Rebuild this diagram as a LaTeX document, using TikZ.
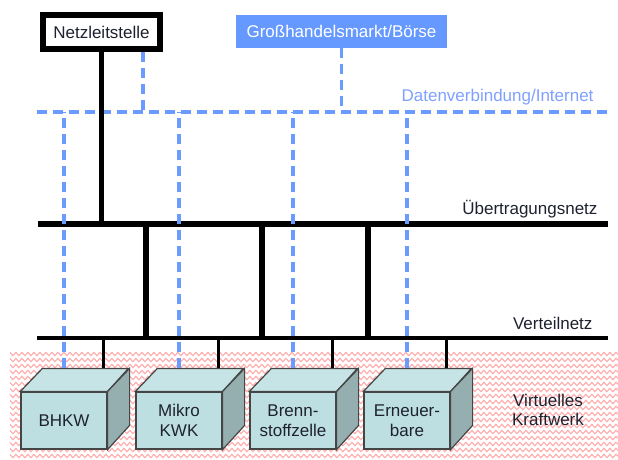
\documentclass[tikz,border=0pt]{standalone}
\usepackage{fontspec}
\setmainfont{Liberation Sans}
\usetikzlibrary{calc,decorations.pathmorphing}
\definecolor{datblue}{HTML}{6B9BFF}
\definecolor{boxblue}{HTML}{6699FF}
\definecolor{txtblue}{HTML}{7FA0FF}
\definecolor{frontcol}{HTML}{BEDFE2}
\definecolor{topcol}{HTML}{C6E4E6}
\definecolor{sidecol}{HTML}{95AFB1}
\definecolor{edgegray}{HTML}{454545}
\definecolor{wavered}{HTML}{FFB0B0}
\definecolor{labelgray}{HTML}{1E2230}
\tikzset{
    bus/.style={line width=6.5pt},
    subbus/.style={line width=3.5pt},
    tap/.style={line width=3pt},
    datline/.style={datblue,line width=3.5pt,dash pattern=on 10pt off 6pt},
    unit/.style={draw=edgegray,line width=1.2pt,fill=frontcol,minimum width=86pt,minimum height=57pt,inner sep=0pt,align=center,text=labelgray},
    wave/.style={wavered,line width=1.2pt,decorate,decoration={snake,amplitude=1.7pt,segment length=6pt}},
    netlabel/.style={anchor=base east,text=labelgray}
}
\begin{document}
\begin{tikzpicture}[x=1pt,y=-1pt,font=\fontsize{17}{19.5}\selectfont]
    \useasboundingbox (0,0) rectangle (618,459);
    % virtuelles Kraftwerk
    \begin{scope}
        \clip (10,352) rectangle (618,459);
        \foreach \y in {354,360,...,458}
            \draw[wave] (8,\y) -- (620,\y);
    \end{scope}
    \node[align=center,text=labelgray] (vk) at (548,410) {Virtuelles\\Kraftwerk};

    % leitstelle und markt
    \node[draw,line width=6pt,minimum width=117pt,minimum height=34pt,inner sep=0pt,text=labelgray] (nls) at (101.5,32) {Netzleitstelle};
    \node[fill=boxblue,text=white,minimum width=211pt,minimum height=33pt,inner sep=0pt] (boerse) at (341.5,31.5) {Gro\ss handelsmarkt/B\"orse};

    % netze
    \coordinate (dL) at (37,112);
    \coordinate (dR) at (610,112);
    \coordinate (ueL) at (38,224);
    \coordinate (ueR) at (608,224);
    \coordinate (vtL) at (37,338);
    \coordinate (vtR) at (608,338);
    \node[netlabel,text=txtblue] (dlbl) at (597,101) {Datenverbindung/Internet};
    \node[netlabel] (uelbl) at (601,214) {\"Ubertragungsnetz};
    \node[netlabel] (vtlbl) at (596,329) {Verteilnetz};

    \draw[datline] (dL) -- (dR);
    \coordinate (nlsdat) at ([xshift=-20pt]nls.south east);
    \draw[datline] (nlsdat) -- (nlsdat |- dL);
    \draw[datline] (boerse.south) -- (boerse.south |- dL);
    \draw[bus] (ueL) -- (ueR);
    \draw[subbus] (vtL) -- (vtR);
    \draw[line width=5.5pt] (nls.south) -- (nls.south |- ueL);
    \foreach \x in {146,262,368}
        \draw[line width=6pt] (\x,0 |- ueL) -- (\x,0 |- vtL);

    % anlagen
    \foreach \i/\x/\txt in {1/64/BHKW,2/179/{Mikro\\KWK},3/293/{Brenn-\\stoffzelle},4/407/{Erneuer-\\bare}}{
        \node[unit] (b\i) at (\x,420.5) {\txt};
        \draw[edgegray,line width=1.2pt,fill=topcol] (b\i.north west) -- ++(22,-23) -- ++(86,0) -- (b\i.north east) -- cycle;
        \draw[edgegray,line width=1.2pt,fill=sidecol] (b\i.north east) -- ++(22,-23) -- ++(0,57) -- (b\i.south east) -- cycle;
        \coordinate (t\i) at ($(b\i.north)+(0,-23)$);
        \coordinate (s\i) at ($(b\i.north)+(39,-23)$);
        \draw[datline] (t\i) -- (t\i |- dL);
        \draw[tap] (s\i) -- (s\i |- vtL);
    }
\end{tikzpicture}
\end{document}
